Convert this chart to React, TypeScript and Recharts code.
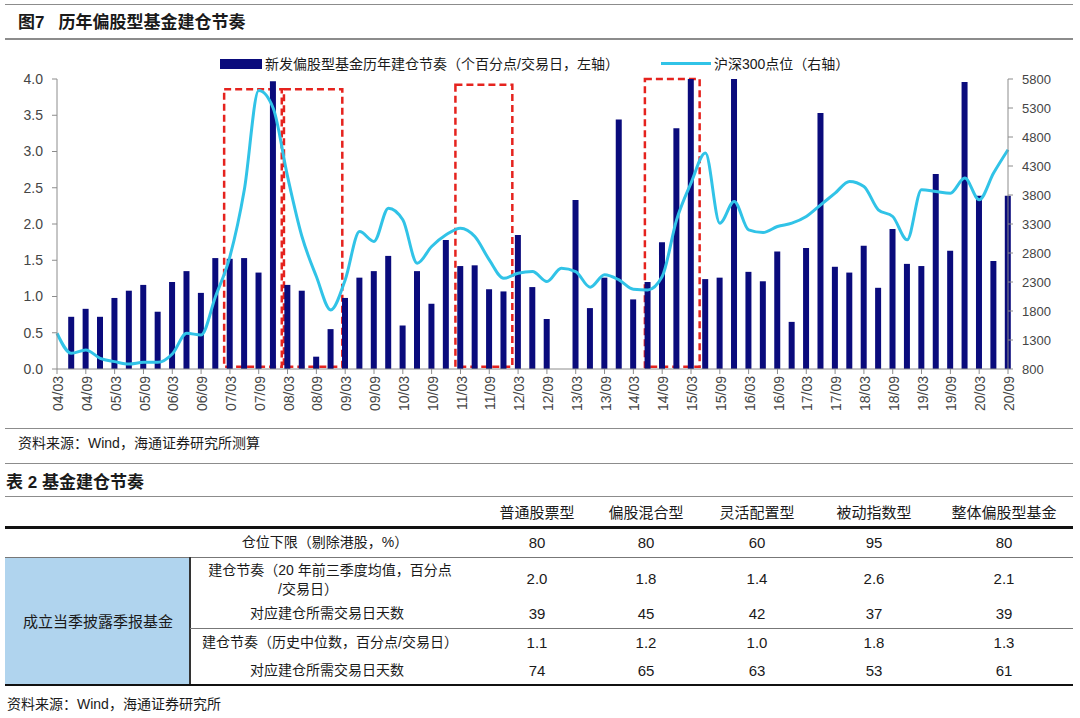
import React from "react";
import { ComposedChart, Bar, Line, XAxis, YAxis, ReferenceArea } from "recharts";

// quarter ends, 2004/03 .. 2020/09
const quarters = [
  "04/03", "04/06", "04/09", "04/12", "05/03", "05/06", "05/09", "05/12",
  "06/03", "06/06", "06/09", "06/12", "07/03", "07/06", "07/09", "07/12",
  "08/03", "08/06", "08/09", "08/12", "09/03", "09/06", "09/09", "09/12",
  "10/03", "10/06", "10/09", "10/12", "11/03", "11/06", "11/09", "11/12",
  "12/03", "12/06", "12/09", "12/12", "13/03", "13/06", "13/09", "13/12",
  "14/03", "14/06", "14/09", "14/12", "15/03", "15/06", "15/09", "15/12",
  "16/03", "16/06", "16/09", "16/12", "17/03", "17/06", "17/09", "17/12",
  "18/03", "18/06", "18/09", "18/12", "19/03", "19/06", "19/09", "19/12",
  "20/03", "20/06", "20/09",
];

// 新发偏股型基金建仓节奏（个百分点/交易日）
const buildPace = [
  null, 0.72, 0.83, 0.72, 0.98, 1.08, 1.16, 0.79,
  1.2, 1.35, 1.05, 1.53, 1.52, 1.53, 1.33, 3.97,
  1.16, 1.08, 0.17, 0.55, 0.98, 1.26, 1.35, 1.56,
  0.6, 1.35, 0.9, 1.78, 1.42, 1.43, 1.1, 1.07,
  1.85, 1.13, 0.69, null, 2.33, 0.84, 1.26, 3.44,
  0.96, 1.2, 1.75, 3.32, 4.0, 1.24, 1.26, 4.0,
  1.34, 1.21, 1.62, 0.65, 1.67, 3.53, 1.41, 1.33,
  1.7, 1.12, 1.93, 1.45, 1.42, 2.69, 1.63, 3.96,
  2.39, 1.49, 2.39,
];

// 沪深300点位
const hs300 = [
  1416, 1070, 1128, 984, 927, 886, 915, 915,
  1059, 1416, 1387, 2049, 2739, 3890, 5600, 5300,
  4120, 3084, 2394, 1818, 2336, 3170, 3000, 3573,
  3372, 2624, 2912, 3113, 3228, 3084, 2682, 2365,
  2451, 2480, 2307, 2538, 2480, 2210, 2423, 2336,
  2175, 2164, 2394, 3372, 4005, 4523, 3314, 3689,
  3199, 3153, 3257, 3314, 3429, 3631, 3832, 4034,
  3947, 3545, 3429, 3027, 3890, 3861, 3832, 4091,
  3717, 4178, 4580,
];

const leftTicks = [0, 0.5, 1, 1.5, 2, 2.5, 3, 3.5, 4];
const rightTicks = [800, 1300, 1800, 2300, 2800, 3300, 3800, 4300, 4800, 5300, 5800];

// red dashed highlight boxes (quarter index range, left-axis top)
const boxes = [
  { x1: 11.6, x2: 15.6, top: 3.86 },
  { x1: 15.75, x2: 19.8, top: 3.86 },
  { x1: 27.65, x2: 31.6, top: 3.92 },
  { x1: 40.8, x2: 44.6, top: 4.0 },
];

// table 2
const fundTypes = ["普通股票型", "偏股混合型", "灵活配置型", "被动指数型", "整体偏股型基金"];
const positionFloor = [80, 80, 60, 95, 80];
const paceThisYear = [2.0, 1.8, 1.4, 2.6, 2.1];
const daysThisYear = [39, 45, 42, 37, 39];
const paceMedian = [1.1, 1.2, 1.0, 1.8, 1.3];
const daysMedian = [74, 65, 63, 53, 61];

const data = quarters.map((q, i) => ({ i, q, pace: buildPace[i], hs: hs300[i] }));
const xTicks = data.filter((d) => d.q.endsWith("/03") || d.q.endsWith("/09")).map((d) => d.i);

const FONT = '"Liberation Sans", Arial, "Noto Sans CJK SC", sans-serif';
const NAVY = "#0A0B7C";
const CYAN = "#31C3E7";
const RED = "#E5231E";
const TICK = "#454545";
const colX = [537, 646, 757, 874, 1004];

function XTick(props: any) {
  const { x, y, payload } = props;
  return (
    <g transform={`translate(${x + 1},${y}) rotate(-90)`}>
      <text x={0} y={0} dy="0.36em" textAnchor="end" fontSize={14} fill={TICK} fontFamily={FONT}>
        {quarters[payload.value]}
      </text>
    </g>
  );
}

function T({ x, y, children, size = 14, bold = false, center = false }: any) {
  return (
    <div
      style={{
        position: "absolute",
        left: x,
        top: y,
        transform: center ? "translate(-50%, -50%)" : "translateY(-50%)",
        fontSize: size,
        fontWeight: bold ? 700 : 400,
        lineHeight: 1,
        whiteSpace: "nowrap",
        color: "#1a1a1a",
      }}
    >
      {children}
    </div>
  );
}

function HLine({ y, x = 5, w = 1068, h = 1, color = "#8c8c8c" }: any) {
  return <div style={{ position: "absolute", left: x, top: y, width: w, height: h, background: color }} />;
}

function BuildChart() {
  return (
    <ComposedChart width={1080} height={430} data={data} margin={{ top: 79, right: 12, bottom: 6, left: 0 }}>
      <XAxis
        xAxisId="q"
        dataKey="i"
        type="number"
        domain={[0, 66]}
        ticks={xTicks}
        interval={0}
        tick={<XTick />}
        tickSize={5}
        tickMargin={2}
        height={55}
        stroke="#8c8c8c"
      />
      <YAxis
        yAxisId="left"
        domain={[0, 4]}
        ticks={leftTicks}
        allowDataOverflow
        tickFormatter={(v: number) => v.toFixed(1)}
        width={57}
        tickSize={5}
        tickMargin={9}
        stroke="#8c8c8c"
        tick={{ fontSize: 14, fill: TICK, fontFamily: FONT }}
      />
      <YAxis
        yAxisId="right"
        orientation="right"
        domain={[800, 5800]}
        ticks={rightTicks}
        width={60}
        tickSize={5}
        tickMargin={9}
        stroke="#8c8c8c"
        tick={{ fontSize: 13, fill: TICK, fontFamily: FONT, textAnchor: "start" }}
      />
      <Bar xAxisId="q" yAxisId="left" dataKey="pace" fill={NAVY} barSize={6} isAnimationActive={false} />
      <Line
        xAxisId="q"
        yAxisId="right"
        dataKey="hs"
        type="monotone"
        stroke={CYAN}
        strokeWidth={3}
        dot={false}
        isAnimationActive={false}
      />
      {boxes.map((b, k) => (
        <ReferenceArea
          key={k}
          xAxisId="q"
          yAxisId="left"
          x1={b.x1}
          x2={b.x2}
          y1={0.03}
          y2={b.top}
          fill="none"
          fillOpacity={0}
          stroke={RED}
          strokeWidth={2.5}
          strokeDasharray="7 4"
        />
      ))}
    </ComposedChart>
  );
}

function Row({ y, values, digits }: any) {
  return (
    <>
      {values.map((v: number, k: number) => (
        <T key={k} x={colX[k]} y={y} size={15} center>
          {digits ? v.toFixed(digits) : v}
        </T>
      ))}
    </>
  );
}

export default function App() {
  return (
    <div
      style={{
        position: "absolute",
        left: 0,
        top: 0,
        width: 1080,
        height: 718,
        background: "#fff",
        overflow: "hidden",
        fontFamily: FONT,
      }}
    >
      <HLine y={4} />
      <T x={18} y={22} size={17} bold>
        图7&nbsp;&nbsp;&nbsp;历年偏股型基金建仓节奏
      </T>
      <HLine y={38} h={1.5} />

      {/* legend */}
      <div style={{ position: "absolute", left: 220, top: 59, width: 42, height: 10, background: NAVY }} />
      <T x={265} y={64} size={14}>
        新发偏股型基金历年建仓节奏（个百分点/交易日，左轴）
      </T>
      <div style={{ position: "absolute", left: 661, top: 62, width: 50, height: 3, background: CYAN }} />
      <T x={714} y={64} size={14}>
        沪深300点位（右轴）
      </T>

      <div style={{ position: "absolute", left: 0, top: 0 }}>
        <BuildChart />
      </div>

      <HLine y={428} />
      <T x={18} y={443} size={14}>
        资料来源：Wind，海通证券研究所测算
      </T>
      <HLine y={463} />

      {/* table 2 */}
      <T x={6} y={482} size={17} bold>
        表 2 基金建仓节奏
      </T>
      <HLine y={496} />
      {fundTypes.map((t, k) => (
        <T key={t} x={colX[k]} y={512} size={15} center>
          {t}
        </T>
      ))}
      <HLine y={526} h={3} color="#111" />
      <T x={325} y={542} center>
        仓位下限（剔除港股，%）
      </T>
      <Row y={542} values={positionFloor} />
      <HLine y={557} color="#777" />

      <div style={{ position: "absolute", left: 5, top: 558, width: 185, height: 127, background: "#B0D4EE" }} />
      <div style={{ position: "absolute", left: 189, top: 557, width: 1.5, height: 128, background: "#333" }} />
      <T x={98} y={621} size={15} center>
        成立当季披露季报基金
      </T>

      <T x={330} y={570} center>
        建仓节奏（20 年前三季度均值，百分点
      </T>
      <T x={308} y={589} center>
        /交易日）
      </T>
      <Row y={578} values={paceThisYear} digits={1} />
      <T x={327} y={613} center>
        对应建仓所需交易日天数
      </T>
      <Row y={613} values={daysThisYear} />
      <HLine y={628} x={190} w={883} color="#777" />

      <T x={330} y={642} center>
        建仓节奏（历史中位数，百分点/交易日）
      </T>
      <Row y={642} values={paceMedian} digits={1} />
      <T x={327} y={670} center>
        对应建仓所需交易日天数
      </T>
      <Row y={670} values={daysMedian} />
      <HLine y={684} h={2} color="#111" />

      <T x={7} y={704} size={14}>
        资料来源：Wind，海通证券研究所
      </T>
    </div>
  );
}
